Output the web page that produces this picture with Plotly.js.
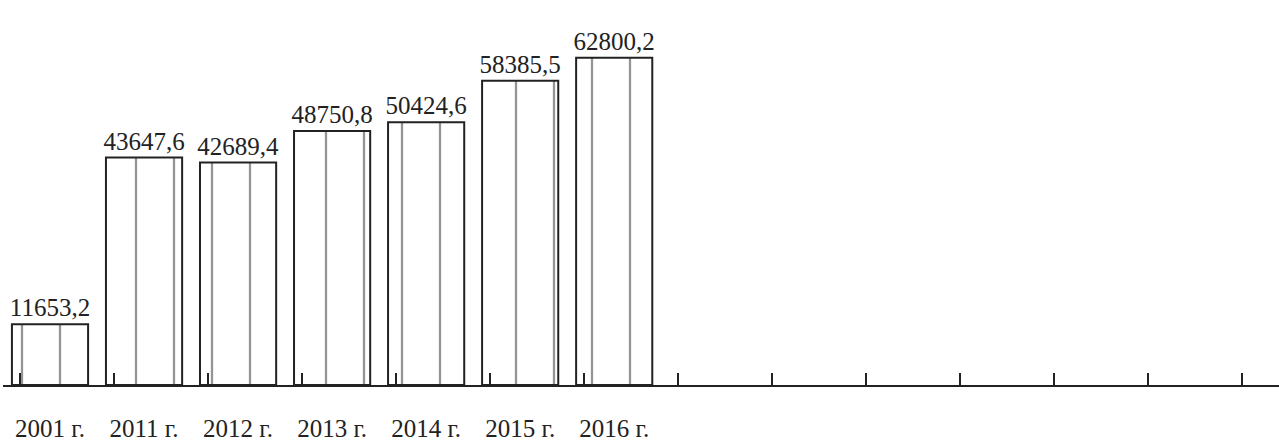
<!DOCTYPE html>
<html>
<head>
<meta charset="utf-8">
<script src="https://cdn.plot.ly/plotly-3.0.1.min.js"></script>
<style>
html,body{margin:0;padding:0;background:#fff;}
#chart{width:1279px;height:441px;}
</style>
</head>
<body>
<div id="chart"></div>
<script>
// Data
const categories = ["2001 г.", "2011 г.", "2012 г.", "2013 г.", "2014 г.", "2015 г.", "2016 г."];
const values = [11653.2, 43647.6, 42689.4, 48750.8, 50424.6, 58385.5, 62800.2];

const ink = "#222";
const serif = "Liberation Serif, Times New Roman, serif";

const bars = {
  type: "bar",
  x: categories,
  y: values,
  marker: {
    color: "rgba(255,255,255,0)",
    line: {color: ink, width: 2},
    pattern: {shape: "|", fgcolor: "#2a2a2a", bgcolor: "#fff", size: 38, solidity: 0.06, fillmode: "overlay"}
  },
  texttemplate: "%{y:.1f}",
  textposition: "outside",
  constraintext: "none",
  textfont: {family: serif, size: 25, color: ink},
  cliponaxis: false,
  hoverinfo: "skip",
  showlegend: false
};

// invisible helper trace to draw the long baseline ticks on an overlaid linear axis
const tickHelper = {
  type: "scatter",
  mode: "markers",
  x: [0],
  y: [0],
  xaxis: "x2",
  marker: {opacity: 0},
  hoverinfo: "skip",
  showlegend: false
};

const layout = {
  width: 1279,
  height: 441,
  margin: {l: 3, r: 0, t: 41, b: 56},
  paper_bgcolor: "#fff",
  plot_bgcolor: "#fff",
  separators: ", ",
  bargap: 0.19,
  font: {family: serif, color: ink},
  xaxis: {
    type: "category",
    range: [-0.5, 13.07],
    showline: true,
    linecolor: ink,
    linewidth: 2,
    ticks: "",
    showgrid: false,
    zeroline: false,
    tickfont: {family: serif, size: 25, color: ink},
    ticklabelstandoff: 20,
    fixedrange: true
  },
  xaxis2: {
    overlaying: "x",
    anchor: "y",
    side: "bottom",
    range: [-0.5, 13.07],
    tickmode: "linear",
    tick0: -0.32,
    dtick: 1,
    ticks: "inside",
    ticklen: 12,
    tickwidth: 2,
    tickcolor: ink,
    showticklabels: false,
    showgrid: false,
    zeroline: false,
    showline: false
  },
  yaxis: {
    range: [0, 66000],
    visible: false,
    showgrid: false,
    zeroline: false,
    fixedrange: true
  }
};

Plotly.newPlot("chart", [bars, tickHelper], layout, {displayModeBar: false, staticPlot: true});
</script>
</body>
</html>
